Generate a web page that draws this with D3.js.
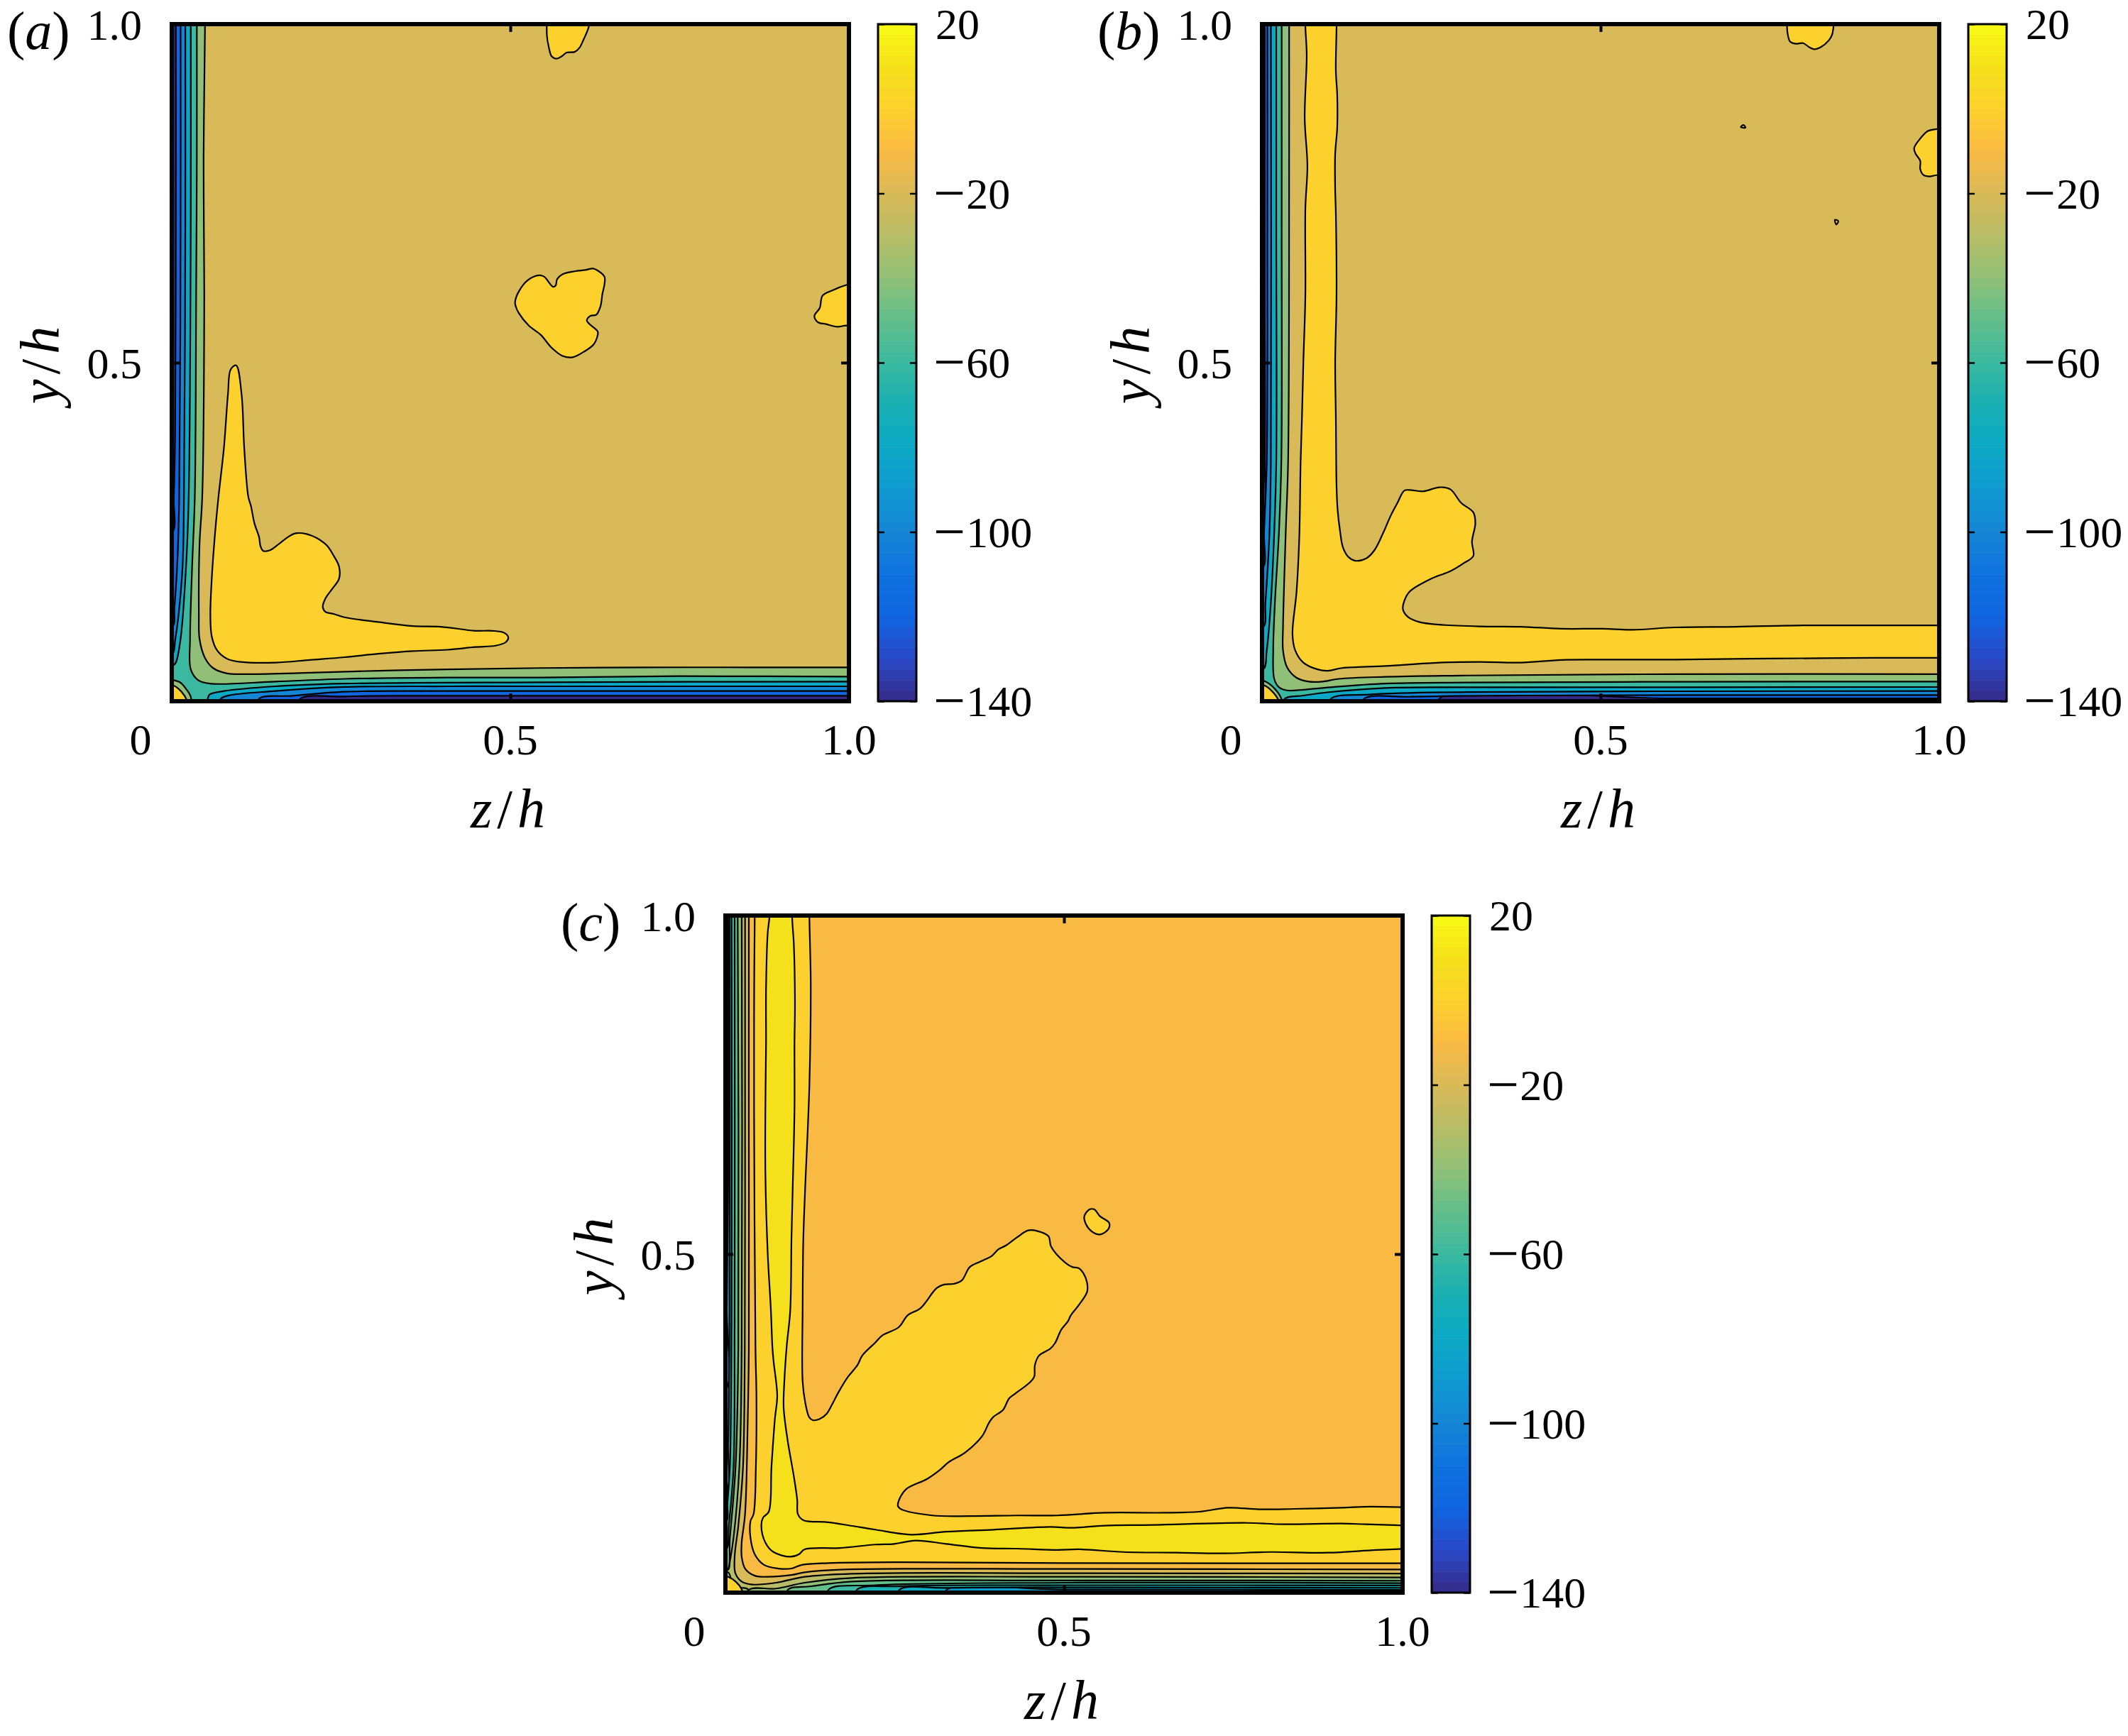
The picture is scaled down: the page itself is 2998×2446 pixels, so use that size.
<!DOCTYPE html>
<html><head><meta charset="utf-8">
<script src="https://cdnjs.cloudflare.com/ajax/libs/d3/7.8.5/d3.min.js"></script>
<style>html,body{margin:0;padding:0;background:#fff}text{font-family:"Liberation Serif",serif;fill:#000}</style>
</head><body><div id="chart"></div>
<script>
// ---- data: contour lines [z/h, y/h] ----
const colourValues=[20,10,0,-10,-20,-30,-40,-50,-60,-70,-80,-90,-100,-110,-120,-130,-140];
const colourHex=["#F9FB15","#F4E11B","#FDD12D","#F9BA43","#D9BA58","#B8BC66","#90C078","#62BE8A","#3AB9A0","#18B0B2","#0CA8C6","#0F9AD0","#1585D5","#0E72DE","#1165E0","#2A48C8","#352A87"];
const axisTicks=[0,0.5,1];
const axisLabels=["0","0.5","1.0"];
const barTicks=[20,-20,-60,-100,-140];
const barLabels=["20","\u221220","\u221260","\u2212100","\u2212140"];

const aM20=[[.049,1.04],[.049,.99],[.047,.8],[.048,.6],[.045,.302],[.041,.232],[.040,.127],[.041,.092],[.049,.064],[.061,.049],[.082,.041],[.112,.040],[.204,.042],[.305,.045],[.407,.047],[.543,.049],[.7,.05],[.85,.05],[1.04,.05],[1.04,1.04]];
const aM40=[[.037,1.04],[.037,.8],[.036,.6],[.034,.302],[.030,.197],[.027,.092],[.028,.047],[.039,.031],[.056,.026],[.153,.029],[.255,.033],[.407,.035],[.543,.035],[.75,.037],[1.04,.036],[1.04,1.04]];
const aM60=[[.028,1.04],[.028,.7],[.025,.302],[.021,.197],[.013,.092],[.006,.057],[.002,.053],[-.02,.052],[-.02,-.02],[.053,-.02],[.053,.003],[.056,.010],[.077,.015],[.153,.022],[.255,.026],[.543,.028],[1.04,.029],[1.04,1.04]];
const aM80=[[.02,1.04],[.02,.7],[.018,.302],[.016,.2],[.010,.127],[.005,.09],[.001,.07],[-.02,.07],[-.02,-.02],[.072,-.02],[.072,.003],[.082,.008],[.153,.015],[.255,.021],[.407,.022],[.543,.022],[1.04,.022],[1.04,1.04]];
const aM100=[[.013,1.04],[.013,.7],[.011,.302],[.008,.2],[.004,.14],[.001,.11],[-.02,.11],[-.02,-.02],[.128,-.02],[.128,.003],[.178,.008],[.255,.014],[.366,.015],[.543,.015],[1.04,.015],[1.04,1.04]];
const aM120=[[.006,1.04],[.006,.7],[.005,.4],[.003,.3],[.001,.25],[-.02,.25],[-.02,-.02],[.189,-.02],[.189,.003],[.255,.007],[.356,.008],[.543,.008],[1.04,.008],[1.04,1.04]];
const aZeroLobe=[[.095,.496],[.087,.49],[.083,.454],[.077,.374],[.069,.302],[.064,.249],[.059,.180],[.057,.127],[.059,.096],[.067,.075],[.082,.0625],[.102,.058],[.153,.057],[.204,.061],[.255,.065],[.305,.070],[.356,.074],[.407,.076],[.448,.080],[.478,.082],[.493,.087],[.497,.094],[.491,.101],[.473,.104],[.448,.104],[.397,.110],[.356,.111],[.305,.117],[.255,.124],[.239,.129],[.227,.132],[.223,.139],[.227,.152],[.237,.166],[.247,.181],[.247,.199],[.239,.215],[.229,.230],[.214,.241],[.199,.247],[.183,.248],[.171,.242],[.158,.232],[.145,.223],[.135,.222],[.131,.229],[.129,.242],[.122,.263],[.117,.288],[.113,.302],[.107,.374],[.103,.454]];
const aZeroTop=[[.555,1.03],[.554,.983],[.557,.965],[.561,.9525],[.568,.949],[.576,.9525],[.583,.958],[.595,.959],[.602,.965],[.608,.977],[.616,.997],[.618,1.03]];
const aZeroHeart=[[.507,.590],[.513,.606],[.526,.622],[.543,.629],[.550,.627],[.563,.612],[.567,.614],[.569,.623],[.578,.631],[.595,.635],[.611,.637],[.622,.639],[.629,.636],[.639,.627],[.639,.616],[.636,.602],[.633,.583],[.627,.571],[.618,.569],[.613,.562],[.629,.546],[.629,.541],[.623,.527],[.610,.517],[.592,.508],[.577,.510],[.561,.522],[.545,.541],[.527,.555],[.512,.574],[.508,.583]];
const aZeroRight=[[1.03,.622],[.997,.615],[.976,.607],[.961,.599],[.957,.581],[.949,.569],[.954,.560],[.966,.557],[.983,.553],[.997,.555],[1.03,.55]];
const aCornerLens=[[.003,.031],[.012,.028],[.022,.017],[.028,.0067],[.029,-.02],[-.02,-.02],[-.02,.033]];
const aCornerTri=[[-.02,.023],[.003,.023],[.022,.002],[.022,-.02],[-.02,-.02]];

const bZero=[[.064,1.04],[.064,.997],[.066,.955],[.063,.861],[.067,.791],[.064,.728],[.064,.6],[.061,.5],[.059,.42],[.057,.354],[.055,.242],[.051,.162],[.045,.099],[.049,.075],[.061,.057],[.082,.047],[.097,.045],[.118,.049],[.182,.052],[.262,.057],[.322,.058],[.382,.057],[.442,.061],[.503,.0615],[.610,.0615],[.75,.063],[.9,.064],[1.04,.064],[1.04,.112],[.9,.112],[.8,.112],[.70,.110],[.610,.109],[.547,.1055],[.503,.107],[.442,.107],[.382,.110],[.322,.1105],[.262,.113],[.232,.117],[.216,.124],[.208,.136],[.210,.148],[.218,.162],[.250,.181],[.278,.192],[.298,.204],[.312,.2145],[.310,.2355],[.315,.263],[.312,.279],[.294,.293],[.278,.313],[.262,.316],[.238,.310],[.218,.312],[.210,.311],[.200,.293],[.190,.274],[.180,.251],[.166,.223],[.154,.211],[.1375,.2075],[.1275,.213],[.1195,.227],[.1155,.249],[.1115,.284],[.110,.319],[.1095,.354],[.109,.42],[.108,.5],[.110,.6],[.109,.721],[.108,.756],[.108,.808],[.111,.847],[.111,.896],[.109,.931],[.110,.997],[.110,1.04]];
const bZeroTop=[[.776,1.03],[.776,.987],[.780,.974],[.788,.971],[.799,.972],[.808,.966],[.815,.963],[.825,.966],[.837,.976],[.842,.985],[.846,1.03]];
const bZeroRight=[[1.03,.848],[.996,.845],[.983,.842],[.972,.831],[.963,.817],[.965,.809],[.972,.798],[.972,.786],[.977,.777],[.986,.775],[.996,.777],[1.03,.777]];
const bDotOne=[[.707,.848],[.711,.851],[.714,.847]];
const bDotTwo=[[.846,.711],[.851,.709],[.848,.704]];
const bM20=[[.040,1.04],[.040,.8],[.0385,.354],[.035,.2495],[.031,.110],[.031,.075],[.037,.050],[.051,.0346],[.069,.029],[.089,.029],[.1135,.033],[.182,.036],[.302,.038],[.610,.040],[1.04,.040],[1.04,1.04]];
const bM40=[[.029,1.04],[.029,.7],[.0285,.354],[.025,.2495],[.019,.145],[.0165,.075],[.018,.033],[.025,.0206],[.037,.016],[.061,.017],[.101,.0206],[.182,.026],[.302,.0276],[.610,.0287],[1.04,.029],[1.04,1.04]];
const bM60=[[.021,1.04],[.021,.7],[.021,.354],[.018,.2495],[.013,.145],[.007,.075],[.002,.047],[-.02,.046],[-.02,-.02],[.033,-.02],[.033,.003],[.061,.0084],[.101,.0136],[.182,.0196],[.302,.0206],[.61,.0206],[1.04,.021],[1.04,1.04]];
const bM80=[[.013,1.04],[.013,.354],[.011,.2495],[.005,.145],[.002,.11],[-.02,.11],[-.02,-.02],[.101,-.02],[.101,.003],[.162,.010],[.302,.0136],[.61,.0147],[1.04,.015],[1.04,1.04]];
const bM100=[[.008,1.04],[.008,.7],[.007,.354],[.003,.25],[.001,.197],[-.02,.197],[-.02,-.02],[.15,-.02],[.15,.003],[.222,.0066],[.382,.0084],[.61,.009],[1.04,.009],[1.04,1.04]];
const bM120=[[.004,1.04],[.004,.6],[.004,.354],[.001,.28],[-.02,.28],[-.02,-.02],[.262,-.02],[.262,.004],[.61,.004],[1.04,.004],[1.04,1.04]];
const bCornerLens=[[-.02,.03],[.005,.029],[.028,.005],[.029,-.02],[-.02,-.02]];
const bCornerTri=[[-.02,.024],[.002,.024],[.024,.002],[.024,-.02],[-.02,-.02]];

const cTen=[[.065,1.04],[.065,.9976],[.0625,.975],[.060,.892],[.060,.811],[.059,.714],[.059,.62],[.0625,.5],[.067,.42],[.0695,.3606],[.0713,.340],[.0765,.291],[.073,.256],[.068,.186],[.064,.1195],[.0556,.1108],[.053,.0985],[.059,.074],[.071,.060],[.096,.053],[.1085,.0566],[.117,.064],[.169,.066],[.2215,.071],[.2495,.072],[.281,.077],[.326,.072],[.379,.066],[.431,.065],[.4906,.063],[.522,.064],[.588,.060],[.665,.059],[.735,.058],[.805,.060],[.89,.059],[.962,.063],[1.04,.066],[1.04,.098],[.945,.101],[.910,.102],[.822,.101],[.770,.103],[.630,.100],[.560,.099],[.512,.0957],[.480,.097],[.396,.093],[.326,.090],[.274,.0856],[.2215,.093],[.187,.0985],[.152,.104],[.115,.107],[.107,.116],[.106,.137],[.101,.172],[.092,.224],[.086,.273],[.087,.312],[.0905,.364],[.0957,.4165],[.0975,.521],[.0992,.591],[.102,.714],[.102,.811],[.1027,.871],[.101,.958],[.0985,.9976],[.0985,1.04]];
const cZero=[[.0433,1.04],[.0433,.9976],[.0426,.916],[.0423,.846],[.0423,.714],[.0444,.3606],[.0458,.291],[.045,.186],[.0416,.116],[.037,.1055],[.037,.081],[.0433,.0566],[.057,.041],[.078,.0356],[.0975,.0356],[.113,.041],[.152,.0437],[.2565,.045],[.501,.0437],[1.04,.0433],[1.04,.1247],[.952,.127],[.910,.1254],[.840,.1237],[.788,.123],[.742,.1254],[.700,.1195],[.648,.118],[.56,.118],[.49,.114],[.431,.114],[.361,.113],[.3055,.114],[.260,.123],[.2547,.128],[.258,.1405],[.267,.153],[.298,.168],[.316,.1806],[.330,.193],[.354,.207],[.379,.231],[.389,.2505],[.395,.259],[.410,.270],[.419,.287],[.428,.294],[.449,.310],[.456,.3187],[.457,.336],[.463,.350],[.480,.3606],[.487,.369],[.496,.3885],[.506,.401],[.510,.4095],[.522,.425],[.534,.444],[.534,.458],[.529,.471],[.522,.479],[.512,.481],[.501,.488],[.481,.511],[.477,.5265],[.461,.534],[.447,.535],[.431,.525],[.414,.5126],[.403,.507],[.393,.497],[.379,.490],[.361,.481],[.349,.461],[.337,.456],[.323,.455],[.312,.4497],[.288,.420],[.269,.4095],[.256,.392],[.232,.380],[.221,.369],[.202,.350],[.195,.336],[.181,.3187],[.167,.296],[.1569,.2767],[.1498,.2645],[.1393,.2565],[.129,.2547],[.1237,.259],[.118,.280],[.114,.312],[.114,.4165],[.115,.521],[.1175,.591],[.124,.75],[.126,.9],[.124,.9976],[.124,1.04]];
const cZeroBlob=[[.530,.556],[.5377,.566],[.5447,.566],[.553,.556],[.5667,.546],[.5656,.537],[.553,.529],[.541,.5335],[.5325,.544]];
const cM10=[[.0346,1.04],[.0346,.7],[.0346,.36],[.033,.256],[.029,.116],[.024,.074],[.024,.053],[.029,.0356],[.0433,.025],[.064,.0234],[.0975,.026],[.117,.030],[.169,.034],[.501,.035],[1.04,.034],[1.04,1.04]];
const cM20=[[.029,1.04],[.029,.7],[.0286,.36],[.026,.186],[.019,.0985],[.0136,.053],[.0147,.0287],[.024,.0164],[.040,.012],[.075,.0147],[.117,.0234],[.187,.028],[.501,.0287],[1.04,.028],[1.04,1.04]];
const cM30=[[.024,1.04],[.024,.36],[.0206,.186],[.012,.081],[.0066,.046],[.004,.034],[-.02,.034],[-.02,-.02],[.0346,-.02],[.0346,.004],[.075,.006],[.117,.0147],[.187,.0217],[.501,.0234],[1.04,.0224],[1.04,1.04]];
const cM40=[[.018,1.04],[.019,.36],[.015,.186],[.0066,.081],[.002,.032],[-.02,.032],[-.02,-.02],[.092,-.02],[.092,.004],[.127,.0094],[.187,.0164],[.501,.018],[1.04,.0175],[1.04,1.04]];
const cM50=[[.0136,1.04],[.0136,.4],[.012,.186],[.005,.0985],[.001,.064],[-.02,.064],[-.02,-.02],[.152,-.02],[.152,.004],[.2215,.011],[.501,.0147],[1.04,.014],[1.04,1.04]];
const cM60=[[.009,1.04],[.009,.4],[.0066,.186],[.003,.133],[.001,.105],[-.02,.105],[-.02,-.02],[.194,-.02],[.194,.004],[.2565,.0094],[.501,.011],[1.04,.0105],[1.04,1.04]];
const cM70=[[.006,1.04],[.006,.4],[.004,.22],[.001,.15],[-.02,.15],[-.02,-.02],[.2565,-.02],[.2565,.004],[.326,.007],[.501,.0077],[1.04,.007],[1.04,1.04]];
const cM80=[[.004,1.04],[.004,.6],[.002,.42],[.0005,.3],[-.02,.3],[-.02,-.02],[.326,-.02],[.326,.0035],[.501,.0045],[1.04,.004],[1.04,1.04]];
const cCornerLens=[[-.02,.03],[.004,.03],[.01,.016],[.0224,.0077],[.033,.005],[.033,-.02],[-.02,-.02]];
const cCornerTri=[[-.02,.0234],[.004,.0234],[.024,.005],[.024,-.02],[-.02,-.02]];

const panelA=[[-120,aM120],[-100,aM100],[-80,aM80],[-60,aM60],[-40,aM40],[-20,aM20],[0,aZeroLobe],[0,aZeroTop],[0,aZeroHeart],[0,aZeroRight],[-40,aCornerLens],[0,aCornerTri]];
const panelB=[[-120,bM120],[-100,bM100],[-80,bM80],[-60,bM60],[-40,bM40],[-20,bM20],[0,bZero],[0,bZeroTop],[0,bZeroRight],[0,bDotOne],[0,bDotTwo],[-40,bCornerLens],[0,bCornerTri]];
const panelC=[[-80,cM80],[-70,cM70],[-60,cM60],[-50,cM50],[-40,cM40],[-30,cM30],[-20,cM20],[-10,cM10],[0,cZero],[0,cZeroBlob],[10,cTen],[-40,cCornerLens],[0,cCornerTri]];

// ---- drawing ----
const W=2998,H=2446,S=954,BW=54;
const colour=d3.scaleLinear().domain(colourValues).range(colourHex);
const svg=d3.select("#chart").append("svg").attr("width",W).attr("height",H).attr("viewBox",`0 0 ${W} ${H}`).style("display","block");
const x=d3.scaleLinear().domain([0,1]).range([0,S]);
const y=d3.scaleLinear().domain([0,1]).range([S,0]);
const bar=d3.scaleLinear().domain([-140,20]).range([S,0]);
const closedCurve=d3.line().x(d=>x(d[0])).y(d=>y(d[1])).curve(d3.curveCatmullRomClosed.alpha(0.5));
const openCurve=d3.line().x(d=>x(d[0])).y(d=>y(d[1])).curve(d3.curveCatmullRom.alpha(0.5));
const off=p=>p[0]<0||p[0]>1||p[1]<0||p[1]>1;
// a contour is smooth inside the frame; the parts beyond the frame close it with straight edges
function contourPath(pts){
  const start=pts.findIndex(off);
  if(start<0) return closedCurve(pts);
  const p=pts.slice(start).concat(pts.slice(0,start));
  const n=p.length;
  let d="M"+x(p[0][0])+","+y(p[0][1]);
  let i=1;
  while(i<=n){
    const cur=p[i%n];
    if(off(cur)){ d+="L"+x(cur[0])+","+y(cur[1]); i++; continue; }
    let k=i;
    while(k<n && !off(p[k])) k++;
    const run=p.slice(i-1,k+1).concat(k===n?[p[0]]:[]);
    d+="L"+openCurve(run).slice(1);
    i=k+1;
  }
  return d+"Z";
}
const FS=62,LS=78;

function label(g,px,py,rot){
  return g.append("text").attr("transform",`translate(${px},${py})${rot?" rotate(-90)":""}`).attr("text-anchor","middle").attr("font-size",LS).attr("letter-spacing",7);
}
function drawPanel(id,ox,oy,data,base,name){
  const g=svg.append("g").attr("transform",`translate(${ox},${oy})`);
  g.append("clipPath").attr("id","clip"+id).append("rect").attr("width",S).attr("height",S);
  const field=g.append("g").attr("clip-path",`url(#clip${id})`);
  field.append("rect").attr("width",S).attr("height",S).attr("fill",colour(base));
  field.selectAll("path").data(data).join("path")
    .attr("d",d=>contourPath(d[1])).attr("fill",d=>colour(d[0]))
    .attr("stroke","#000").attr("stroke-width",2.2).attr("stroke-linejoin","round");
  const ax=[[d3.axisBottom(x),`translate(0,${S})`],[d3.axisTop(x),"translate(0,0)"],[d3.axisLeft(y),"translate(0,0)"],[d3.axisRight(y),`translate(${S},0)`]];
  ax.forEach(([a,tr])=>{
    const s=g.append("g").attr("transform",tr).call(a.tickValues([0.5]).tickSize(-11).tickFormat(""));
    s.select(".domain").remove();
    s.selectAll("line").attr("stroke","#000").attr("stroke-width",4);
  });
  g.append("rect").attr("width",S).attr("height",S).attr("fill","none").attr("stroke","#000").attr("stroke-width",6);
  g.selectAll(".xl").data(axisTicks).join("text").attr("class","xl")
    .attr("x",(d,i)=>i===0?-44:x(d)).attr("y",S+75).attr("text-anchor","middle").attr("font-size",FS)
    .text((d,i)=>axisLabels[i]);
  g.selectAll(".yl").data(axisTicks.slice(1)).join("text").attr("class","yl")
    .attr("x",-42).attr("y",d=>y(d)+22).attr("text-anchor","end").attr("font-size",FS)
    .text((d,i)=>axisLabels[i+1]);
  const xt=label(g,x(0.5),S+178,false);
  xt.append("tspan").attr("font-style","italic").text("z");xt.append("tspan").text("/");xt.append("tspan").attr("font-style","italic").text("h");
  const yt=label(g,-159,y(0.5),true);
  yt.append("tspan").attr("font-style","italic").text("y");yt.append("tspan").text("/");yt.append("tspan").attr("font-style","italic").text("h");
  const pl=g.append("text").attr("x",-232).attr("y",35).attr("font-size",76);
  pl.append("tspan").text("(");pl.append("tspan").attr("font-style","italic").text(name);pl.append("tspan").text(")");
  const cb=g.append("g").attr("transform","translate(995,0)");
  const steps=d3.range(64);
  const stepH=S/64;
  cb.selectAll("rect").data(steps).join("rect")
    .attr("y",d=>d*stepH).attr("width",BW).attr("height",stepH+0.6)
    .attr("fill",d=>colour(bar.invert((d+0.5)*stepH)));
  [[d3.axisLeft(bar),"translate(0,0)"],[d3.axisRight(bar),`translate(${BW},0)`]].forEach(([a,tr])=>{
    const s=cb.append("g").attr("transform",tr).call(a.tickValues(barTicks).tickSize(-9).tickFormat(""));
    s.select(".domain").remove();
    s.selectAll("line").attr("stroke","#000").attr("stroke-width",2.5);
  });
  cb.append("rect").attr("width",BW).attr("height",S).attr("fill","none").attr("stroke","#000").attr("stroke-width",3);
  barTicks.forEach((v,i)=>{
    const t=cb.append("text").attr("x",81).attr("y",bar(v)+21).attr("font-size",FS);
    const s=barLabels[i];
    if(s[0]==="\u2212"){
      t.append("tspan").attr("font-size",80).attr("dy",5).attr("dx",-3).text(s[0]);
      t.append("tspan").attr("dy",-5).attr("dx",1).text(s.slice(1));
    } else t.text(s);
  });
}
drawPanel("a",242,34,panelA,-140,"a");
drawPanel("b",1778,34,panelB,-140,"b");
drawPanel("c",1022,1290,panelC,-90,"c");
</script></body></html>
